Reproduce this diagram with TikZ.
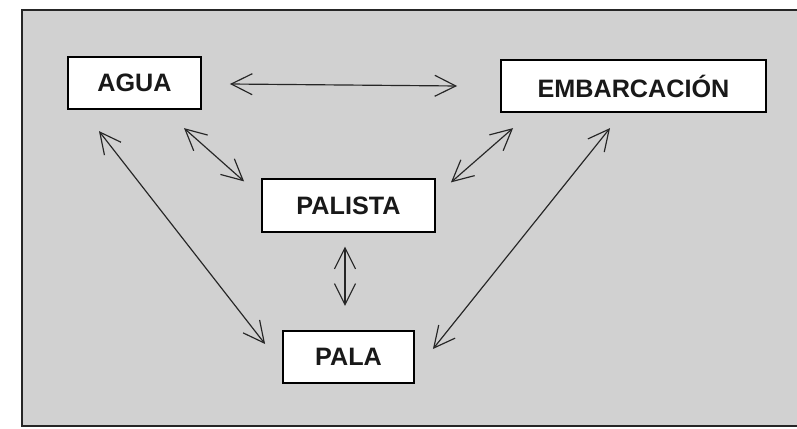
\documentclass[tikz,border=0pt]{standalone}
\usepackage{fontspec}
\setmainfont{Liberation Sans}
\usepackage{tikz}
\usetikzlibrary{calc,arrows.meta}

\begin{document}
\begin{tikzpicture}[x=0.03cm, y=-0.03cm,
  box/.style={draw, rectangle, line width=1.6pt, fill=white, text=black!90,
    font=\fontsize{21.5}{25}\selectfont\bfseries, minimum height=1.57cm},
  link/.style={line width=1pt, black!85, {Straight Barb[length=0.63cm,width=0.63cm]}-{Straight Barb[length=0.63cm,width=0.63cm]}}]
  \useasboundingbox (0,0) rectangle (797,429);
  % Background
  \fill[black!18] (22,10) rectangle (806,426);
  \draw[line width=1.4pt, black!85] (806,10) -- (22,10) -- (22,426) -- (806,426);
  % Nodes
  \node [box, minimum width=3.99cm] (agua) at (134.5,83) {AGUA};
  \node [box, minimum width=7.95cm] (embarcacion) at (633.5,86) {EMBARCACIÓN};
  \node [box, minimum width=5.19cm] (palista) at (348.5,205.5) {PALISTA};
  \node [box, minimum width=3.93cm] (pala) at (348.5,357) {PALA};
  % Arrows
  \draw [link] ($(agua.east)+(28,1)$) -- ($(embarcacion.west)+(-43,0)$);
  \draw [link] ($(agua.south)+(49.5,18)$) -- ($(palista.north west)+(-17,3)$);
  \draw [link] ($(agua.south)+(-35.5,21)$) -- ($(pala.west)+(-17,-13)$);
  \draw [link] ($(embarcacion.south west)+(13,15)$) -- ($(palista.north east)+(15,4)$);
  \draw [link] ($(embarcacion.south)+(-23.5,15)$) -- ($(pala.east)+(18,-8)$);
  \draw [link] ($(palista.south)+(-3.5,14)$) -- ($(pala.north)+(-3.5,-24)$);
\end{tikzpicture}
\end{document}
